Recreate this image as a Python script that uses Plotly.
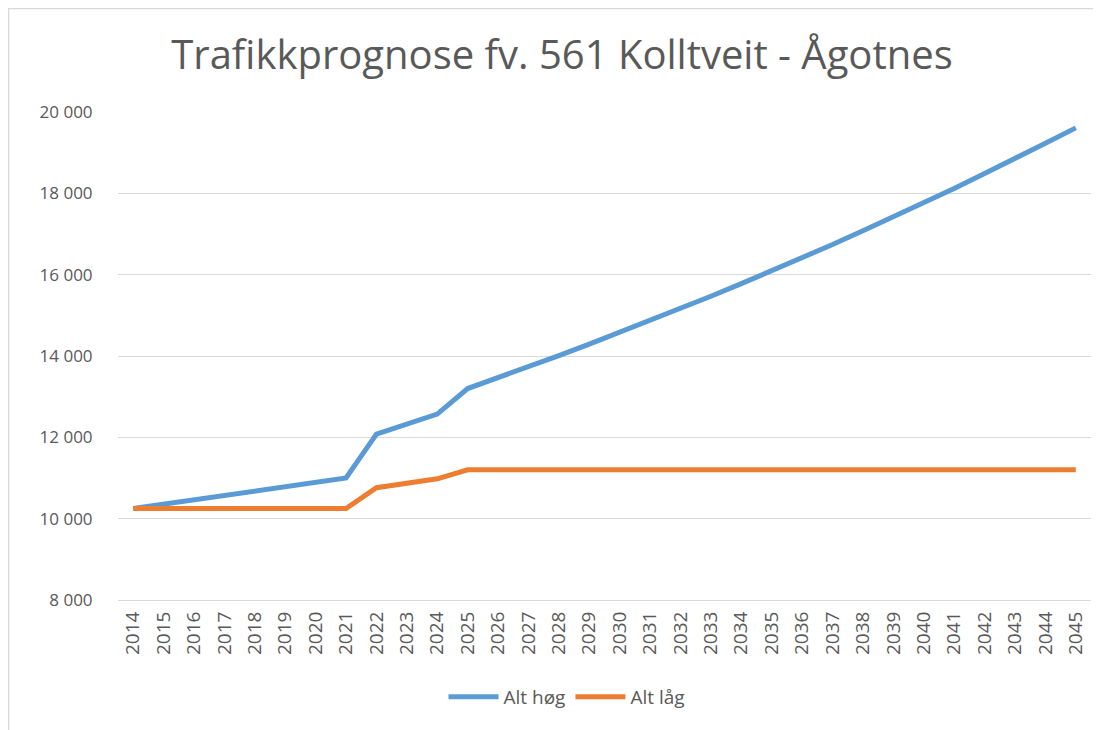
import plotly.graph_objects as go

years = [str(y) for y in range(2014, 2046)]
alt_hog = [10250, 10360, 10460, 10570, 10680, 10780, 10890, 11000,
           12080, 12330, 12570, 13200, 13460, 13730, 14010, 14290,
           14580, 14870, 15170, 15470, 15780, 16090, 16410, 16740,
           17080, 17420, 17770, 18120, 18490, 18850, 19230, 19610]
alt_lag = [10250, 10250, 10250, 10250, 10250, 10250, 10250, 10250,
           10760, 10870, 10980, 11200, 11200, 11200, 11200, 11200,
           11200, 11200, 11200, 11200, 11200, 11200, 11200, 11200,
           11200, 11200, 11200, 11200, 11200, 11200, 11200, 11200]
y_ticks = [8000, 10000, 12000, 14000, 16000, 18000, 20000]
y_labels = ["8 000", "10 000", "12 000", "14 000", "16 000", "18 000", "20 000"]

gray = "#595959"
fig = go.Figure()
fig.add_trace(go.Scatter(x=years, y=alt_hog, mode="lines", name="Alt høg",
                         line=dict(color="#5B9BD5", width=5)))
fig.add_trace(go.Scatter(x=years, y=alt_lag, mode="lines", name="Alt låg",
                         line=dict(color="#ED7D31", width=5)))

# page body has an 8px margin; figure coords = screen coords - 8
W, H = 1093, 722
L, R, T, B = 110, 10, 104, 130
pw = W - L - R
ph = H - T - B

fig.update_layout(
    width=W, height=H,
    margin=dict(l=L, r=R, t=T, b=B, pad=0),
    paper_bgcolor="white", plot_bgcolor="white",
    font=dict(family="Open Sans", color=gray),
    title=dict(text="Trafikkprognose fv. 561 Kolltveit - Ågotnes",
               x=554 / W, xanchor="center", y=1 - 47 / H, yanchor="middle",
               font=dict(size=40, color=gray, family="Open Sans")),
    xaxis=dict(type="category", range=[-0.5, len(years) - 0.5],
               tickangle=-90, tickfont=dict(size=19, color=gray),
               showgrid=False, showline=True, linecolor="#D9D9D9", linewidth=1,
               ticks="outside", ticklen=3, tickcolor="rgba(0,0,0,0)"),
    yaxis=dict(range=[8000, 20000], tickvals=y_ticks, ticktext=y_labels,
               tickfont=dict(size=17, color=gray),
               showgrid=True, gridcolor="#D9D9D9", gridwidth=1,
               zeroline=False, showline=False, ticks="outside",
               ticklen=21, tickcolor="rgba(0,0,0,0)"),
    legend=dict(orientation="h", x=(559 - L) / pw, xanchor="center",
                y=(H - B - 689) / ph, yanchor="middle",
                font=dict(size=19, color=gray), itemwidth=50,
                traceorder="normal"),
    showlegend=True,
)

def px(xp):
    return (xp - L) / pw
def py(yp):
    return (H - B - yp) / ph
fig.add_shape(type="line", xref="paper", yref="paper",
              x0=px(0), x1=px(W), y0=py(0.5), y1=py(0.5),
              line=dict(color="#D9D9D9", width=1.5))
fig.add_shape(type="line", xref="paper", yref="paper",
              x0=px(0.5), x1=px(0.5), y0=py(0), y1=py(H),
              line=dict(color="#D9D9D9", width=1.5))

fig.write_html("out.html")
